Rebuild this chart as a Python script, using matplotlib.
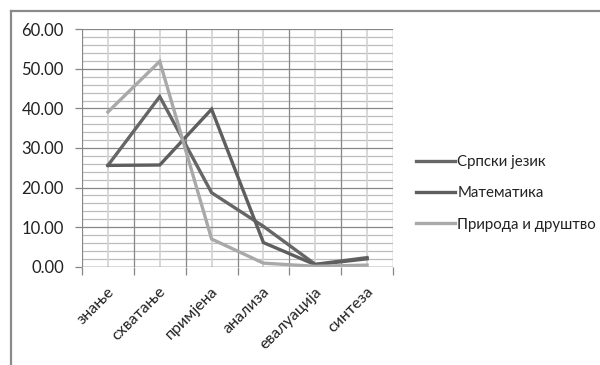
import matplotlib
matplotlib.use("Agg")
import matplotlib.pyplot as plt
from matplotlib.lines import Line2D
import numpy as np

plt.rcParams['font.family'] = ['Lato', 'DejaVu Sans']

categories = ['знање', 'схватање', 'примјена', 'анализа', 'евалуација', 'синтеза']
srpski = [25.6, 43.0, 18.7, 10.2, 0.6, 2.3]
matematika = [25.6, 25.7, 39.8, 6.1, 0.5, 2.0]
priroda = [39.1, 51.9, 7.0, 0.9, 0.1, 0.4]
series_names = ['Српски језик', 'Математика', 'Природа и друштво']
y_ticks = [0, 10, 20, 30, 40, 50, 60]

fig = plt.figure(figsize=(6.0, 3.65), dpi=100)
ax = fig.add_axes([82/600, 1-266.7/365, (393-82)/600, (266.7-29.3)/365])

x = np.arange(len(categories)) + 0.5
ax.set_xlim(0, len(categories))
ax.set_ylim(0, 60)

# grid: minor every 2, major every 10
for v in np.arange(0, 61, 2):
    if v % 10:
        ax.axhline(v, color='#bdbdbd', lw=0.9, zorder=0)
for v in y_ticks:
    ax.axhline(v, color='#878787', lw=0.9, zorder=0.5)
for b in range(len(categories) + 1):
    ax.axvline(b, color='#878787', lw=0.9, zorder=0.5)
for c in x:
    ax.axvline(c, color='#d2d2d2', lw=1.2, zorder=0.4)

colors = ['#666666', '#5e5e5e', '#a9a9a9']
for vals, name, col in zip([srpski, matematika, priroda], series_names, colors):
    ax.plot(x, vals, color=col, lw=2.4, label=name, solid_joinstyle='miter', zorder=3)

for s in ax.spines.values():
    s.set_visible(False)
ax.axhline(0, color='#878787', lw=1.0, zorder=1)

ax.set_yticks(y_ticks)
ax.set_yticklabels([f'{v:.2f}' for v in y_ticks], fontsize=12, color='#222222')
ax.tick_params(axis='y', length=5, width=0.9, color='#878787', pad=8)

ax.set_xticks(range(len(categories) + 1))
ax.set_xticklabels([])
ax.tick_params(axis='x', length=6, width=0.9, color='#878787')
for c, lab in zip(x, categories):
    ax.text(c + 0.08, -5.8, lab, rotation=45, ha='right', va='center',
            rotation_mode='anchor', fontsize=11.5, color='#222222',
            transform=ax.transData, clip_on=False)

leg = fig.legend(loc='upper left', bbox_to_anchor=(410/600, 1-149/365),
                 frameon=False, fontsize=10.8, handlelength=2.6,
                 handletextpad=0.15, labelspacing=1.15, borderaxespad=0)
for t in leg.get_texts():
    t.set_color('#222222')

# outer chart frame
fig.add_artist(Line2D([11/600, 11/600], [0, 1-10.5/365], transform=fig.transFigure,
                      color='#8a8a8a', lw=1.6))
fig.add_artist(Line2D([11/600, 1], [1-10.5/365, 1-10.5/365], transform=fig.transFigure,
                      color='#8a8a8a', lw=1.6))

fig.savefig('out.png', dpi=100)
